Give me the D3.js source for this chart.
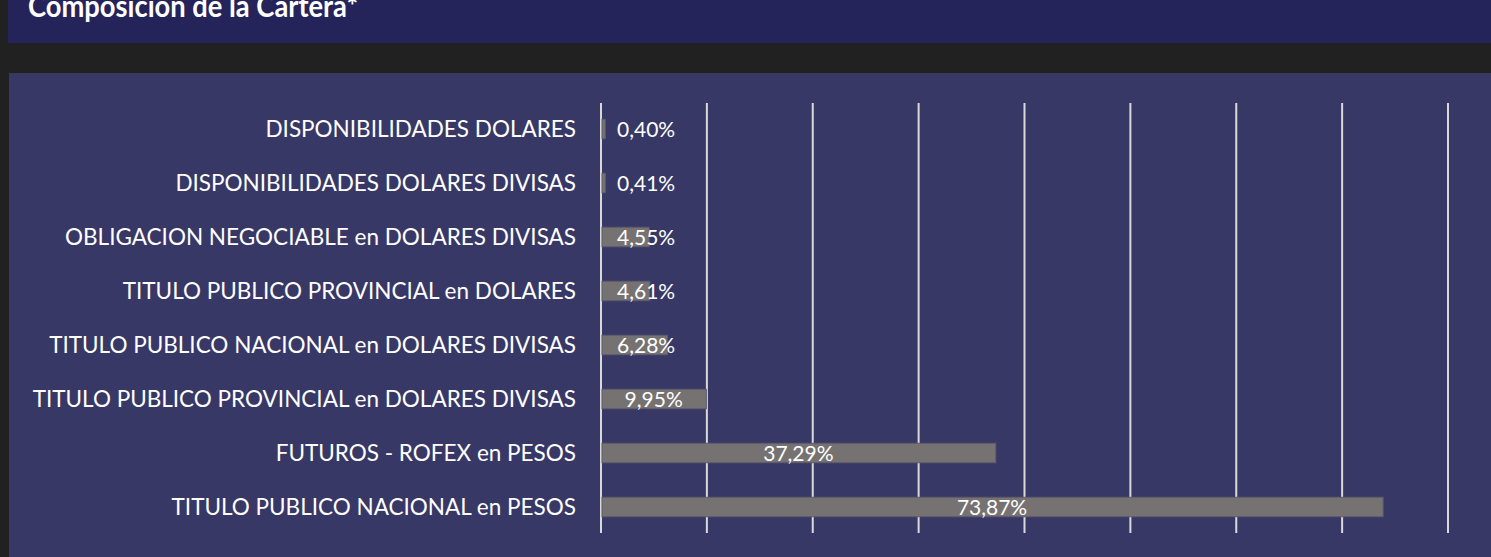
<!DOCTYPE html>
<html>
<head>
<meta charset="utf-8">
<script src="https://cdn.jsdelivr.net/npm/d3@7"></script>
<style>
  body { margin: 0; background: #212121; }
  svg { display: block; }
</style>
</head>
<body>
<div id="chart"></div>
<script>
// Data
var categories = [
  'DISPONIBILIDADES DOLARES',
  'DISPONIBILIDADES DOLARES DIVISAS',
  'OBLIGACION NEGOCIABLE en DOLARES DIVISAS',
  'TITULO PUBLICO PROVINCIAL en DOLARES',
  'TITULO PUBLICO NACIONAL en DOLARES DIVISAS',
  'TITULO PUBLICO PROVINCIAL en DOLARES DIVISAS',
  'FUTUROS - ROFEX en PESOS',
  'TITULO PUBLICO NACIONAL en PESOS'
]
var values = [0.40, 0.41, 4.55, 4.61, 6.28, 9.95, 37.29, 73.87]
var gridTicks = [0, 10, 20, 30, 40, 50, 60, 70, 80]
var title = 'Composición de la Cartera*'

var chart = {
  width: 1491,
  height: 557,
  font: 'Lato, "Open Sans", sans-serif'
}

chart.svg = d3.select('#chart')
  .append('svg')
  .attr('width', chart.width)
  .attr('height', chart.height)

// Header band and panel
chart.svg.append('rect')
  .attr('width', chart.width).attr('height', chart.height)
  .attr('fill', '#212121')

chart.svg.append('rect')
  .attr('x', 8).attr('y', 0)
  .attr('width', chart.width - 8).attr('height', 43)
  .attr('fill', '#25245a')

// title is clipped by the top edge, as in the original slide
chart.svg.append('text')
  .attr('x', 28).attr('y', 17)
  .attr('fill', 'white')
  .attr('textLength', 330)
  .attr('lengthAdjust', 'spacingAndGlyphs')
  .style('font-family', chart.font)
  .style('font-weight', 'bold')
  .style('font-size', '30px')
  .text(title)

chart.svg.append('rect')
  .attr('x', 9).attr('y', 73)
  .attr('width', chart.width - 9).attr('height', chart.height - 73)
  .attr('fill', '#383866')

// Scales
var x = d3.scaleLinear().domain([0, 80]).range([601, 1448])
var y = d3.scaleBand().domain(categories).range([102, 534]).paddingInner(0.64).paddingOuter(0.32)

// Gridlines
chart.svg.selectAll('line.grid')
  .data(gridTicks)
  .enter()
  .append('line')
  .attr('class', 'grid')
  .attr('x1', d => x(d)).attr('x2', d => x(d))
  .attr('y1', 103).attr('y2', 533)
  .attr('stroke', '#d9d9d9')
  .attr('stroke-width', 2)

// Bars
chart.svg.selectAll('rect.bar')
  .data(values)
  .enter()
  .append('rect')
  .attr('class', 'bar')
  .attr('x', x(0) + 1)
  .attr('y', (d, i) => y(categories[i]))
  .attr('width', d => x(d) - x(0) - 1)
  .attr('height', y.bandwidth())
  .attr('fill', '#767271')
  .attr('stroke', '#5d5b6e')
  .attr('stroke-width', 1)

// Category labels
chart.svg.selectAll('text.cat')
  .data(categories)
  .enter()
  .append('text')
  .attr('class', 'cat')
  .attr('x', 576)
  .attr('y', d => y(d) + y.bandwidth() / 2)
  .attr('dy', '0.36em')
  .attr('text-anchor', 'end')
  .attr('fill', 'white')
  .style('font-family', chart.font)
  .style('font-size', '22.5px')
  .text(d => d)

// Value labels: centred on the bar, but never left of the minimum offset
chart.svg.selectAll('text.val')
  .data(values)
  .enter()
  .append('text')
  .attr('class', 'val')
  .attr('y', (d, i) => y(categories[i]) + y.bandwidth() / 2)
  .attr('dy', '0.36em')
  .attr('fill', 'white')
  .style('font-family', chart.font)
  .style('font-size', '21px')
  .text(d => d.toFixed(2).replace('.', ',') + '%')
  .attr('x', function (d) {
    var w = this.getComputedTextLength()
    var centre = (x(0) + x(d)) / 2
    return Math.max(centre - w / 2, 617)
  })
</script>
</body>
</html>
